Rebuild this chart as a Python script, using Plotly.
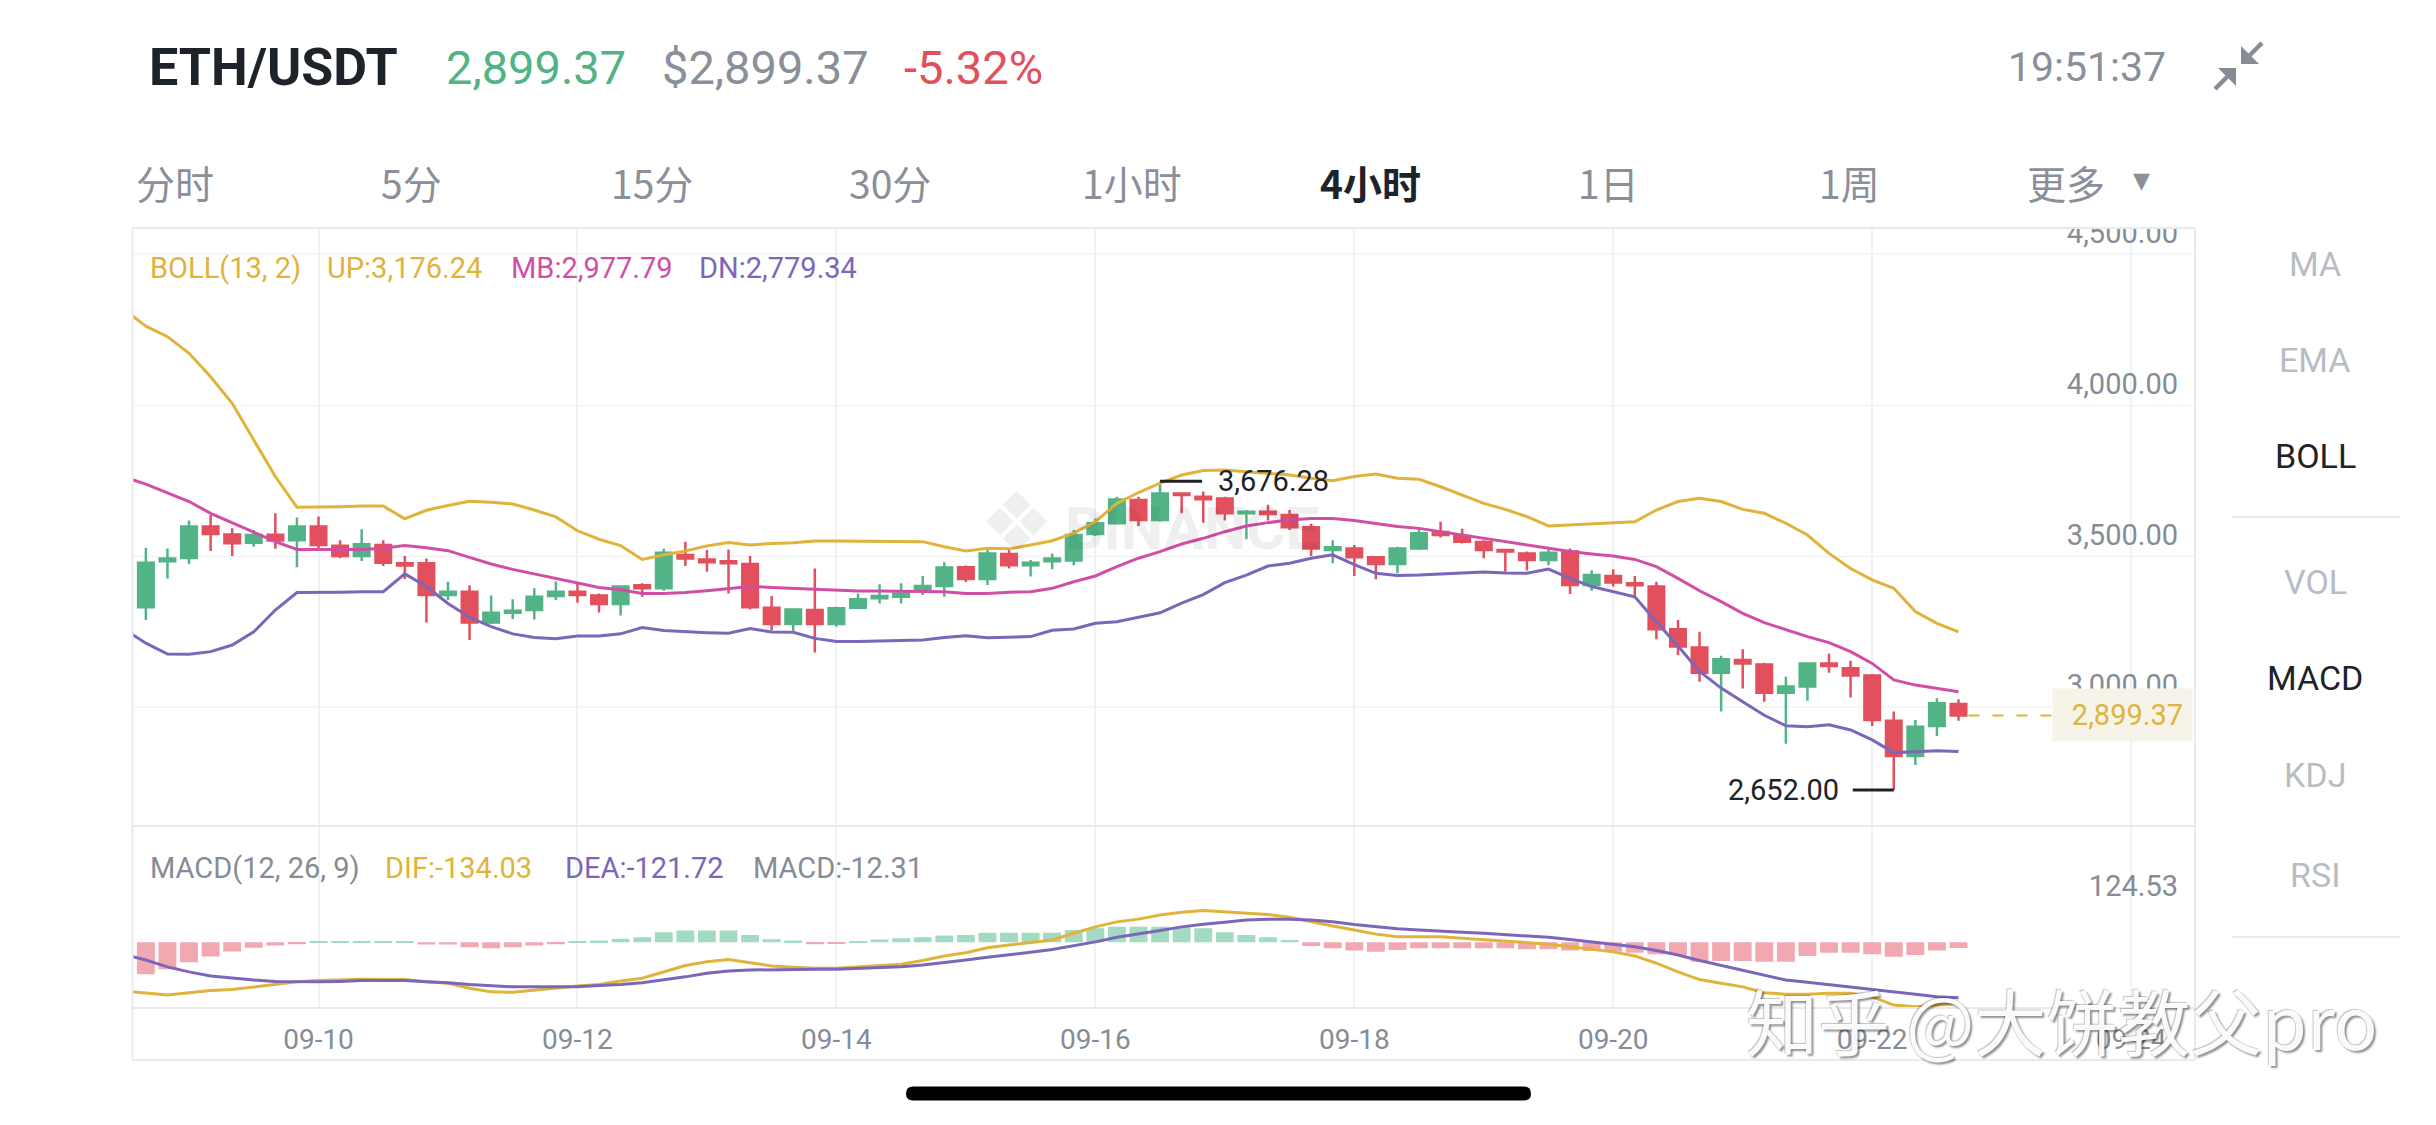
import plotly.graph_objects as go
import pandas as pd

W, H = 2436, 1125

# ---------------------------------------------------------------- data
candle_times = pd.date_range("2021-09-08 16:00", "2021-09-22 16:00", freq="4h")
band_times = pd.date_range("2021-09-08 12:00", "2021-09-22 16:00", freq="4h")

opens = [3258, 3411, 3422, 3526, 3500, 3472, 3499, 3481,
         3526, 3462, 3428, 3465, 3404, 3404, 3299, 3310, 3208, 3240,
         3249, 3296, 3310, 3297, 3269, 3331, 3321, 3432, 3417, 3411,
         3402, 3257, 3203, 3249, 3203, 3257, 3288, 3293, 3316, 3329,
         3391, 3352, 3435, 3398, 3411, 3413, 3501, 3537, 3614, 3548,
         3636, 3625, 3619, 3570, 3575, 3564, 3524, 3448, 3453, 3424,
         3402, 3453, 3508, 3495, 3475, 3448, 3437, 3415, 3443, 3332,
         3362, 3338, 3327, 3185, 3125, 3041, 3083, 3068, 2975, 2995,
         3072, 3056, 3032, 2882, 2765, 2864, 2937]
highs = [3456, 3453, 3546, 3564, 3520, 3515, 3570, 3556,
         3559, 3481, 3517, 3481, 3428, 3420, 3343, 3331, 3297, 3285,
         3321, 3344, 3338, 3304, 3331, 3338, 3452, 3476, 3448, 3450,
         3428, 3296, 3255, 3387, 3260, 3304, 3335, 3338, 3362, 3408,
         3397, 3448, 3448, 3415, 3437, 3515, 3553, 3625, 3625, 3676.28,
         3639, 3642, 3625, 3581, 3598, 3581, 3535, 3481, 3465, 3428,
         3459, 3517, 3542, 3519, 3481, 3451, 3443, 3451, 3453, 3380,
         3384, 3362, 3343, 3216, 3177, 3097, 3119, 3074, 3028, 3072,
         3105, 3081, 3037, 2912, 2884, 2956, 2953]
lows = [3216, 3354, 3402, 3445, 3428, 3459, 3452, 3391,
        3454, 3421, 3412, 3395, 3352, 3208, 3282, 3150, 3203, 3219,
        3218, 3282, 3273, 3241, 3231, 3293, 3313, 3395, 3376, 3304,
        3251, 3181, 3177, 3108, 3194, 3255, 3271, 3271, 3299, 3293,
        3342, 3332, 3387, 3360, 3384, 3398, 3495, 3535, 3528, 3542,
        3570, 3539, 3546, 3484, 3546, 3515, 3428, 3404, 3362, 3351,
        3371, 3448, 3490, 3470, 3421, 3376, 3380, 3398, 3302, 3313,
        3327, 3288, 3152, 3100, 3011, 2912, 2989, 2945, 2805, 2948,
        3041, 2959, 2864, 2652.00, 2735, 2831, 2882]
closes = [3406, 3420, 3526, 3501, 3471, 3498, 3480, 3526,
          3465, 3428, 3467, 3406, 3397, 3299, 3310, 3208, 3240, 3247,
          3293, 3310, 3299, 3269, 3327, 3321, 3439, 3420, 3408, 3404,
          3258, 3203, 3251, 3203, 3255, 3285, 3296, 3304, 3329, 3390,
          3352, 3437, 3398, 3406, 3420, 3498, 3537, 3616, 3548, 3636,
          3631, 3617, 3570, 3575, 3568, 3524, 3453, 3457, 3424, 3402,
          3453, 3504, 3498, 3476, 3448, 3443, 3415, 3439, 3332, 3365,
          3340, 3331, 3185, 3128, 3041, 3086, 3072, 2975, 2995, 3072,
          3063, 3032, 2884, 2765, 2862, 2940, 2899.37]

boll_up = [4245, 4191, 4156, 4101, 4023, 3935, 3813, 3692, 3590,
           3590, 3592, 3594, 3594, 3552, 3580, 3596, 3610, 3607, 3601,
           3581, 3558, 3512, 3484, 3463, 3417, 3432, 3445, 3462, 3473,
           3465, 3470, 3472, 3478, 3478, 3478, 3477, 3477, 3476, 3459,
           3445, 3454, 3452, 3465, 3479, 3504, 3542, 3603, 3639, 3670,
           3697, 3712, 3714, 3708, 3703, 3697, 3686, 3678, 3692, 3700,
           3686, 3683, 3658, 3631, 3603, 3583, 3559, 3528, 3531, 3535,
           3537, 3542, 3581, 3609, 3620, 3609, 3583, 3570, 3537, 3498,
           3437, 3387, 3349, 3321, 3244, 3205, 3176.24]
boll_mb = [3690, 3667, 3638, 3609, 3570, 3539, 3506, 3476, 3450,
           3450, 3450, 3450, 3454, 3463, 3456, 3446, 3424, 3402, 3384,
           3369, 3354, 3340, 3324, 3316, 3304, 3304, 3307, 3313, 3321,
           3327, 3324, 3321, 3316, 3313, 3312, 3312, 3312, 3312, 3310,
           3304, 3304, 3308, 3310, 3321, 3343, 3362, 3393, 3421, 3443,
           3468, 3487, 3509, 3528, 3539, 3548, 3553, 3553, 3546, 3535,
           3526, 3520, 3509, 3498, 3487, 3476, 3465, 3454, 3443, 3435,
           3428, 3417, 3393, 3354, 3313, 3277, 3238, 3207, 3183, 3161,
           3141, 3111, 3072, 3017, 3000, 2989, 2977.79]
boll_dn = [3185, 3139, 3103, 3102, 3111, 3133, 3177, 3249, 3307,
           3307, 3308, 3310, 3310, 3369, 3327, 3271, 3225, 3194, 3170,
           3158, 3154, 3163, 3163, 3170, 3191, 3181, 3177, 3174, 3172,
           3188, 3176, 3175, 3155, 3145, 3145, 3147, 3149, 3150, 3158,
           3164, 3157, 3160, 3161, 3182, 3186, 3205, 3210, 3225, 3240,
           3272, 3300, 3340, 3365, 3395, 3404, 3421, 3432, 3400, 3371,
           3364, 3365, 3369, 3371, 3375, 3372, 3371, 3385, 3354, 3327,
           3310, 3293, 3210, 3130, 3045, 2990, 2945, 2900, 2865, 2862,
           2868, 2851, 2818, 2776, 2779, 2782, 2779.34]

macd_hist = [-70, -59, -44, -31, -20, -12, -7, -4,
             3, 2, 3, 3, 2, -5, -5, -11, -13, -11,
             -7, -4, 3, 4, 8, 11, 22, 26, 26, 26,
             16, 7, 4, -4, -3, 3, 6, 9, 11, 15,
             16, 21, 21, 21, 21, 27, 31, 34, 34, 34,
             33, 31, 22, 16, 11, 5, -8, -13, -18, -21,
             -17, -13, -13, -13, -13, -13, -15, -15, -18, -19,
             -21, -23, -26, -28, -43, -41, -41, -43, -43, -30,
             -23, -23, -26, -32, -28, -18, -12.31]
macd_dif = [-107, -112, -116, -111, -106, -104, -98, -93, -87,
            -84, -82, -81, -82, -82, -87, -90, -101, -109, -110,
            -105, -100, -96, -93, -85, -79, -65, -51, -43, -38,
            -45, -52, -55, -57, -57, -54, -51, -48, -40, -30,
            -23, -12, -6, -1, 5, 20, 34, 45, 51, 60,
            66, 70, 67, 65, 61, 55, 45, 36, 27, 18,
            12, 12, 12, 9, 6, 3, -1, -4, -10, -16,
            -21, -30, -46, -65, -82, -90, -98, -111, -114, -114,
            -112, -112, -120, -138, -142, -138, -134.03]
macd_dea = [-27, -39, -54, -65, -74, -79, -83, -86, -87,
            -87, -86, -84, -84, -84, -87, -89, -93, -95, -98,
            -98, -98, -98, -95, -93, -89, -83, -76, -68, -63,
            -61, -60, -59, -59, -59, -57, -56, -54, -50, -45,
            -39, -33, -28, -22, -16, -8, 1, 11, 18, 26,
            34, 40, 44, 49, 51, 51, 49, 45, 39, 34,
            30, 27, 24, 22, 20, 17, 15, 11, 6, 1,
            -4, -10, -18, -28, -40, -51, -62, -73, -83, -88,
            -93, -98, -104, -109, -114, -120, -121.72]

date_ticks = ["2021-09-10", "2021-09-12", "2021-09-14", "2021-09-16",
              "2021-09-18", "2021-09-20", "2021-09-22", "2021-09-24"]
date_labels = ["09-10", "09-12", "09-14", "09-16", "09-18", "09-20", "09-22", "09-24"]
price_ticks = [3000, 3500, 4000, 4500]
price_labels = ["3,000.00", "3,500.00", "4,000.00", "4,500.00"]
macd_ticks = [124.53]
macd_labels = ["124.53"]
price_grid = [2927, 3427, 3928, 4430]

header_pair = "ETH/USDT"
header_last = "2,899.37"
header_usd = "$2,899.37"
header_change = "-5.32%"
header_clock = "19:51:37"
tabs = ["分时", "5分", "15分", "30分", "1小时", "4小时", "1日", "1周", "更多"]
menu = ["MA", "EMA", "BOLL", "VOL", "MACD", "KDJ", "RSI"]

# ---------------------------------------------------------------- style
DARK = "#1e2329"
GRAY = "#868c96"
LIGHT = "#b8bdc5"
GREEN = "#52b486"
RED = "#e1505c"
GOLD = "#e0b33a"
MAGENTA = "#d24ea6"
PURPLE = "#7c66ba"
MINT = "#a3dbc2"
PINK = "#f2a8b0"
GRID = "#f1f2f4"
BORDER = "#e8eaed"
FONT = "Roboto"
CJK = "Noto Sans CJK SC"

PL, PR = 132.5, 2195
MAIN_TOP, MAIN_BOT = 228, 826
MACD_BOT, BOX_BOT = 1008, 1060


def X(px):
    return px / W


def Y(py):
    return 1 - py / H


base = pd.Timestamp("2021-09-10 00:00")


def t_at(k):
    return base + pd.Timedelta(hours=4 * k)


x_range = [t_at(-8.62), t_at(86.96)]

fig = go.Figure()

fig.add_trace(go.Candlestick(
    x=candle_times, open=opens, high=highs, low=lows, close=closes,
    increasing=dict(line=dict(color=GREEN, width=2.5), fillcolor=GREEN),
    decreasing=dict(line=dict(color=RED, width=2.5), fillcolor=RED),
    whiskerwidth=0, showlegend=False, hoverinfo="skip", xaxis="x", yaxis="y"))
for vals, col in ((boll_up, GOLD), (boll_mb, MAGENTA), (boll_dn, PURPLE)):
    fig.add_trace(go.Scatter(x=band_times, y=vals, mode="lines",
                             line=dict(color=col, width=3), showlegend=False,
                             hoverinfo="skip", xaxis="x", yaxis="y"))

fig.add_trace(go.Bar(x=candle_times, y=macd_hist,
                     marker=dict(color=[MINT if v >= 0 else PINK for v in macd_hist],
                                 line=dict(width=0)),
                     showlegend=False, hoverinfo="skip", xaxis="x2", yaxis="y2"))
fig.add_trace(go.Scatter(x=band_times, y=macd_dif, mode="lines",
                         line=dict(color=GOLD, width=3), showlegend=False,
                         hoverinfo="skip", xaxis="x2", yaxis="y2"))
fig.add_trace(go.Scatter(x=band_times, y=macd_dea, mode="lines",
                         line=dict(color=PURPLE, width=3), showlegend=False,
                         hoverinfo="skip", xaxis="x2", yaxis="y2"))

axis_common = dict(zeroline=False, showline=False, fixedrange=True, ticks="",
                   automargin=False)
fig.update_layout(
    width=W, height=H, autosize=False, margin=dict(l=0, r=0, t=0, b=0, pad=0),
    paper_bgcolor="white", plot_bgcolor="white", showlegend=False,
    boxgap=0.28, boxgroupgap=0, bargap=0.17,
    xaxis=dict(domain=[X(PL), X(PR)], range=x_range, anchor="y", type="date",
               tickvals=date_ticks, ticktext=date_labels, showticklabels=False,
               showgrid=True, gridcolor=GRID, gridwidth=1.5,
               rangeslider=dict(visible=False), **axis_common),
    xaxis2=dict(domain=[X(PL), X(PR)], range=x_range, anchor="y2", type="date",
                tickvals=date_ticks, ticktext=date_labels, showticklabels=True,
                tickfont=dict(family=FONT, size=28, color=GRAY), ticklabelstandoff=12,
                showgrid=True, gridcolor=GRID, gridwidth=1.5, **axis_common),
    yaxis=dict(domain=[Y(MAIN_BOT), Y(MAIN_TOP)], range=[2532.5, 4516.6], anchor="x",
               side="right", tickvals=price_ticks, ticktext=price_labels,
               ticklabelposition="inside", ticklabelstandoff=14, ticklabeloverflow="allow",
               tickfont=dict(family=FONT, size=29, color=GRAY), showgrid=False,
               **axis_common),
    yaxis2=dict(domain=[Y(MACD_BOT), Y(MAIN_BOT)], range=[-144.5, 255.9], anchor="x2",
                side="right", tickvals=macd_ticks, ticktext=macd_labels,
                ticklabelposition="inside", ticklabelstandoff=14, ticklabeloverflow="allow",
                tickfont=dict(family=FONT, size=29, color=GRAY), showgrid=False,
                **axis_common),
)

shapes = []
for g in price_grid:
    shapes.append(dict(type="line", xref="paper", yref="y", x0=X(PL), x1=X(PR), y0=g, y1=g,
                       line=dict(color=GRID, width=1.5), layer="below"))
# cover for the clipped top label
shapes.append(dict(type="rect", xref="paper", yref="paper", x0=X(1960), x1=X(PR - 1),
                   y0=Y(227), y1=Y(150), fillcolor="white", line=dict(width=0), layer="above"))


def hl(y, x0, x1, color=BORDER, width=2):
    return dict(type="line", xref="paper", yref="paper", x0=X(x0), x1=X(x1), y0=Y(y), y1=Y(y),
                line=dict(color=color, width=width), layer="above")


def vl(x, y0, y1, color=BORDER, width=2):
    return dict(type="line", xref="paper", yref="paper", x0=X(x), x1=X(x), y0=Y(y0), y1=Y(y1),
                line=dict(color=color, width=width), layer="above")


shapes += [hl(MAIN_TOP, PL, PR), hl(BOX_BOT, PL, PR), hl(MAIN_BOT, PL, PR),
           hl(MACD_BOT, PL, PR), vl(PL, MAIN_TOP, BOX_BOT), vl(PR, MAIN_TOP, BOX_BOT),
           hl(517, 2232, 2400), hl(937, 2232, 2400)]

# last price dashed guide
last_t = candle_times[-1]
shapes.append(dict(type="line", xref="x", yref="y", xsizemode="pixel", xanchor=last_t,
                   x0=10, x1=93, y0=closes[-1], y1=closes[-1],
                   line=dict(color=GOLD, width=2, dash="11px,13px"), layer="above"))

# high / low markers
hi_idx = max(range(len(highs)), key=lambda k: highs[k])
lo_idx = min(range(len(lows)), key=lambda k: lows[k])
shapes.append(dict(type="line", xref="x", yref="y", xsizemode="pixel",
                   xanchor=candle_times[hi_idx], x0=0, x1=42,
                   y0=highs[hi_idx], y1=highs[hi_idx], line=dict(color=DARK, width=3)))
shapes.append(dict(type="line", xref="x", yref="y", xsizemode="pixel",
                   xanchor=candle_times[lo_idx], x0=-41, x1=0,
                   y0=lows[lo_idx], y1=lows[lo_idx], line=dict(color=DARK, width=3)))


def poly(points, color):
    d = "M " + " L ".join(f"{X(a)},{Y(b)}" for a, b in points) + " Z"
    return dict(type="path", xref="paper", yref="paper", path=d, fillcolor=color,
                line=dict(width=0), layer="above")


# compress icon
shapes.append(poly([(2241, 64), (2241, 46), (2259, 64)], GRAY))
shapes.append(dict(type="line", xref="paper", yref="paper", x0=X(2248), y0=Y(57),
                   x1=X(2262), y1=Y(43), line=dict(color=GRAY, width=4.5)))
shapes.append(poly([(2236, 68), (2218, 68), (2236, 86)], GRAY))
shapes.append(dict(type="line", xref="paper", yref="paper", x0=X(2229), y0=Y(75),
                   x1=X(2215), y1=Y(89), line=dict(color=GRAY, width=4.5)))

# home indicator
x0, x1, yt, yb, r = 906, 1531, 1086.5, 1100.5, 7
ym = (yt + yb) / 2
path = (f"M {X(x0 + r)},{Y(yt)} L {X(x1 - r)},{Y(yt)} Q {X(x1)},{Y(yt)} {X(x1)},{Y(ym)} "
        f"Q {X(x1)},{Y(yb)} {X(x1 - r)},{Y(yb)} L {X(x0 + r)},{Y(yb)} "
        f"Q {X(x0)},{Y(yb)} {X(x0)},{Y(ym)} Q {X(x0)},{Y(yt)} {X(x0 + r)},{Y(yt)} Z")
shapes.append(dict(type="path", xref="paper", yref="paper", path=path, fillcolor="black",
                   line=dict(width=0), layer="above"))

fig.update_layout(shapes=shapes)

ann = []


def txt(x, y, s, size, color, family=FONT, anchor="left", weight=None, **kw):
    f = dict(family=family, size=size, color=color)
    if weight:
        f["weight"] = weight
    f.update(kw.pop("fontextra", {}))
    d = dict(xref="paper", yref="paper", x=X(x), y=Y(y), text=s, showarrow=False,
             xanchor=anchor, yanchor="middle", font=f)
    d.update(kw)
    return d


# header
ann.append(txt(147, 67, header_pair, 52, DARK, weight=700))
ann.append(txt(444, 67, header_last, 47, GREEN))
ann.append(txt(660, 67, header_usd, 47, "#8a8f99"))
ann.append(txt(902, 67, header_change, 47, RED))
ann.append(txt(2168, 67, header_clock, 41, "#8a8f99", anchor="right"))

# tabs
tab_x = [175, 412, 652, 890, 1132, 1370, 1608, 1849, 2066]
for name, cx in zip(tabs, tab_x):
    active = name == "4小时"
    ann.append(txt(cx, 182, name, 39, DARK if active else "#8a8f99", family=CJK,
                   anchor="center", weight=700 if active else None))
ann.append(txt(2141, 180, "▼", 22, "#8a8f99", family="DejaVu Sans", anchor="center"))

# right menu
menu_y = [264, 360, 456, 582, 678, 775, 875]
for name, cy in zip(menu, menu_y):
    ann.append(txt(2315, cy, name, 34, DARK if name in ("BOLL", "MACD") else LIGHT,
                   anchor="center"))

# legends
ann.append(txt(148, 268, "BOLL(13, 2)", 29, GOLD))
ann.append(txt(325, 268, f"UP:{boll_up[-1]:,.2f}", 29, GOLD))
ann.append(txt(509, 268, f"MB:{boll_mb[-1]:,.2f}", 29, MAGENTA))
ann.append(txt(697, 268, f"DN:{boll_dn[-1]:,.2f}", 29, PURPLE))
ann.append(txt(148, 868, "MACD(12, 26, 9)", 29, GRAY))
ann.append(txt(383, 868, f"DIF:{macd_dif[-1]:,.2f}", 29, GOLD))
ann.append(txt(563, 868, f"DEA:{macd_dea[-1]:,.2f}", 29, PURPLE))
ann.append(txt(751, 868, f"MACD:{macd_hist[-1]:,.2f}", 29, GRAY))

# price tag
ann.append(dict(xref="paper", yref="y", x=X(2193), y=closes[-1], text=f"{closes[-1]:,.2f}",
                showarrow=False, xanchor="right", yanchor="middle", align="right",
                font=dict(family=FONT, size=29, color=GOLD), bgcolor="#f6f3e9",
                borderpad=9, width=121))

# high / low labels
ann.append(dict(xref="x", yref="y", x=candle_times[hi_idx], y=highs[hi_idx],
                text=f"{highs[hi_idx]:,.2f}", showarrow=False, xanchor="left",
                yanchor="middle", xshift=56, font=dict(family=FONT, size=29, color=DARK)))
ann.append(dict(xref="x", yref="y", x=candle_times[lo_idx], y=lows[lo_idx],
                text=f"{lows[lo_idx]:,.2f}", showarrow=False, xanchor="right",
                yanchor="middle", xshift=-53, font=dict(family=FONT, size=29, color=DARK)))

# watermarks
ann.append(txt(1016, 523, "❖", 84, "rgba(30,35,41,0.07)", family="DejaVu Sans",
               anchor="center"))
ann.append(txt(1063, 528, "BINANCE", 60, "rgba(30,35,41,0.07)", weight=700))
ann.append(txt(1744, 1018, "知乎 @大饼教父pro", 72, "rgba(255,255,255,0.96)", family=CJK,
               fontextra=dict(shadow="2px 2px 2px rgba(0,0,0,0.45), -1px -1px 1px rgba(0,0,0,0.25)")))

fig.update_layout(annotations=ann)

fig.write_html("out.html", config={"displayModeBar": False},
               post_script="document.body.style.margin='0';")
